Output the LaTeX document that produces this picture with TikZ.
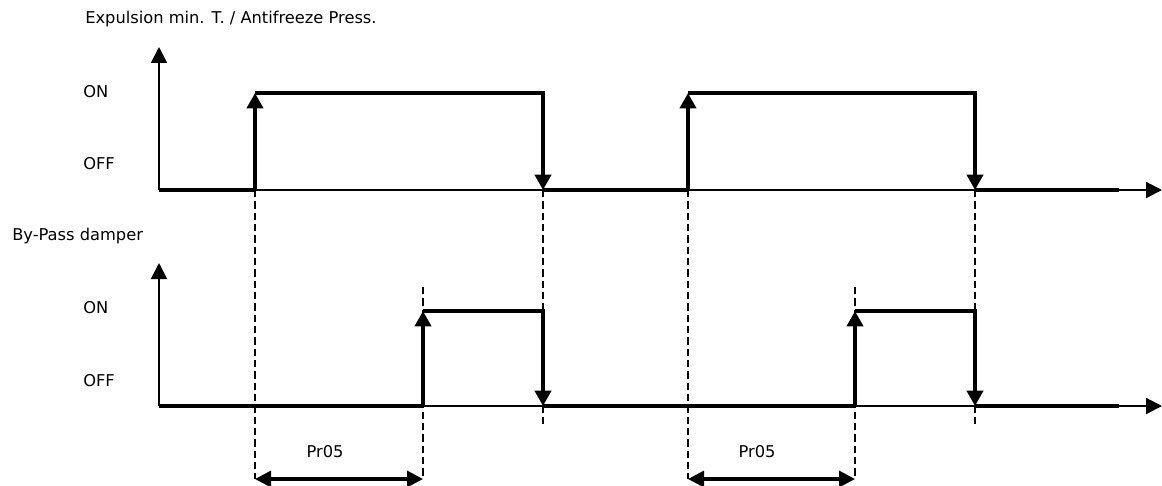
\documentclass[tikz,border=0pt]{standalone}
\usepackage{fontspec}
\setmainfont{DejaVu Sans}
\usetikzlibrary{arrows.meta, positioning}

\begin{document}
\begin{tikzpicture}[
    x=0.75pt, y=-0.75pt,
    lbl/.style={font=\fontsize{12.2}{14}\selectfont, inner sep=0pt, anchor=base west},
    axis/.style={line width=1.5pt, -{Triangle[length=12pt, width=12pt]}},
    signal/.style={line width=3pt},
    edge/.style={line width=3pt, -{Triangle[length=11.5pt, width=12pt]}},
    guide/.style={line width=1.3pt, dash pattern=on 5.5pt off 3pt},
    span/.style={line width=2.4pt, {Triangle[length=12pt, width=12pt]}-{Triangle[length=12pt, width=12pt]}}
]
\useasboundingbox (0,0) rectangle (1162,485);

% top chart
\node[lbl] (title1) at (85,24) {Expulsion min. T. / Antifreeze Press.};
\node[lbl] (on1) at (83,97) {ON};
\node[lbl] (off1) at (83,169) {OFF};
\coordinate (t0) at (159,190);
\coordinate (tya) at (159,47);
\coordinate (txa) at (1162,190);
\coordinate (tr1) at (255,190);
\coordinate (tr1h) at (255,93);
\coordinate (tf1h) at (543,93);
\coordinate (tf1) at (543,190);
\coordinate (tr2) at (688,190);
\coordinate (tr2h) at (688,93);
\coordinate (tf2h) at (975,93);
\coordinate (tf2) at (975,190);
\coordinate (tend) at (1119,190);
\draw[axis] (t0) -- (tya);
\draw[axis] (t0) -- (txa);
\draw[signal] (t0) -- (tr1);
\draw[edge] (tr1) -- (tr1h);
\draw[edge] (tr1h) -- (tf1h) -- (tf1);
\draw[signal] (tf1) -- (tr2);
\draw[edge] (tr2) -- (tr2h);
\draw[edge] (tr2h) -- (tf2h) -- (tf2);
\draw[signal] (tf2) -- (tend);

% bottom chart
\node[lbl] (title2) at (12,240) {By-Pass damper};
\node[lbl] (on2) at (83,313) {ON};
\node[lbl] (off2) at (83,386) {OFF};
\coordinate (b0) at (159,406);
\coordinate (bya) at (159,263);
\coordinate (bxa) at (1162,406);
\coordinate (br1) at (423,406);
\coordinate (br1h) at (423,311);
\coordinate (bf1h) at (543,311);
\coordinate (bf1) at (543,406);
\coordinate (br2) at (855,406);
\coordinate (br2h) at (855,311);
\coordinate (bf2h) at (975,311);
\coordinate (bf2) at (975,406);
\coordinate (bend) at (1119,406);
\draw[axis] (b0) -- (bya);
\draw[axis] (b0) -- (bxa);
\draw[signal] (b0) -- (br1);
\draw[edge] (br1) -- (br1h);
\draw[edge] (br1h) -- (bf1h) -- (bf1);
\draw[signal] (bf1) -- (br2);
\draw[edge] (br2) -- (br2h);
\draw[edge] (br2h) -- (bf2h) -- (bf2);
\draw[signal] (bf2) -- (bend);

% guides and delay
\coordinate (g1) at (255,479);
\coordinate (g2) at (423,479);
\coordinate (g2t) at (423,287);
\coordinate (g3) at (543,425);
\coordinate (g4) at (688,479);
\coordinate (g5) at (855,479);
\coordinate (g5t) at (855,287);
\coordinate (g6) at (975,425);
\draw[guide] (tr1) -- (g1);
\draw[guide] (g2t) -- (g2);
\draw[guide] (tf1) -- (g3);
\draw[guide] (tr2) -- (g4);
\draw[guide] (g5t) -- (g5);
\draw[guide] (tf2) -- (g6);
\draw[span] (g1) -- (g2);
\draw[span] (g4) -- (g5);
\node[lbl, anchor=base] (pr1) at (325,457) {Pr05};
\node[lbl, anchor=base] (pr2) at (757,457) {Pr05};
\end{tikzpicture}
\end{document}
